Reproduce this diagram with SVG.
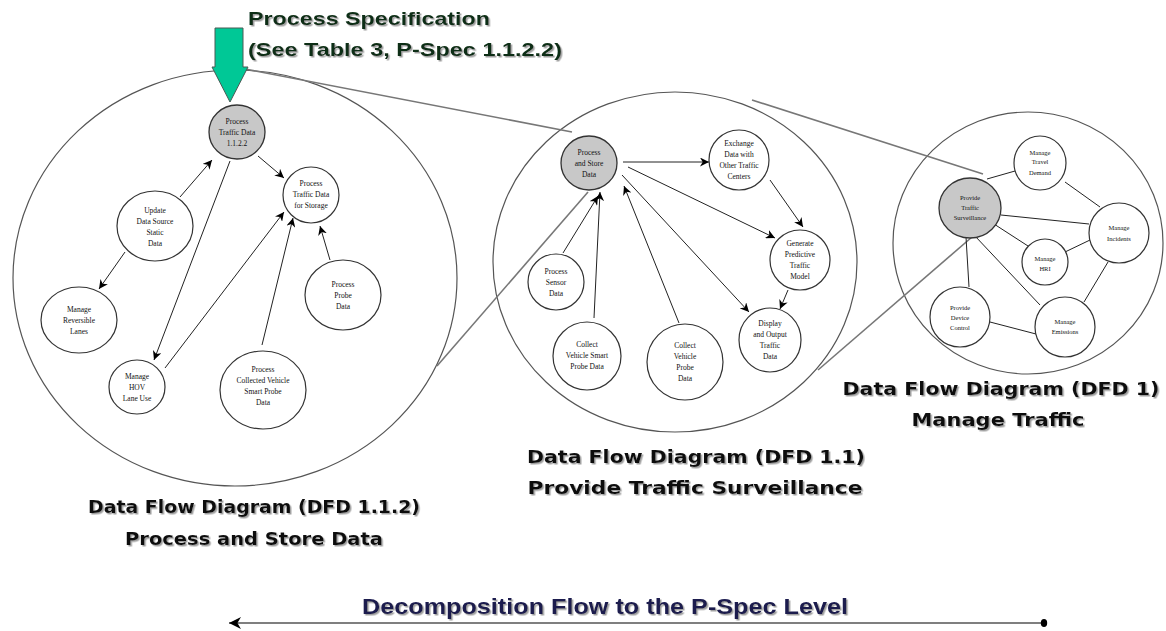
<svg xmlns="http://www.w3.org/2000/svg" width="1166" height="631" viewBox="0 0 1166 631">
<defs>
<marker id="ah" viewBox="0 0 10 10" refX="10" refY="5" markerWidth="9" markerHeight="9" markerUnits="userSpaceOnUse" orient="auto">
<path d="M0,0 L10,5 L0,10 L3,5 z" fill="#000"/>
</marker>
<marker id="ahL" viewBox="0 0 10 10" refX="10" refY="5" markerWidth="12" markerHeight="12" markerUnits="userSpaceOnUse" orient="auto">
<path d="M0,0 L10,5 L0,10 L3,5 z" fill="#000"/>
</marker>
<marker id="dot" viewBox="0 0 10 10" refX="5" refY="5" markerWidth="8" markerHeight="10" markerUnits="userSpaceOnUse" orient="auto">
<ellipse cx="5" cy="5" rx="4" ry="5" fill="#000"/>
</marker>
<filter id="sh" x="-5%" y="-20%" width="110%" height="150%">
<feDropShadow dx="1.5" dy="1.5" stdDeviation="0.6" flood-color="#888" flood-opacity="0.8"/>
</filter>
</defs>
<style>
.big{fill:none;stroke:#555;stroke-width:1.2}
.n{fill:#fff;stroke:#333;stroke-width:1.2}
.g{fill:#c8c8c8;stroke:#333;stroke-width:1.3}
.t{font-family:"Liberation Serif",serif;font-size:7.5px;fill:#111;text-anchor:middle}
.ts{font-family:"Liberation Serif",serif;font-size:6.5px;fill:#111;text-anchor:middle}
.c{stroke:#222;stroke-width:1;fill:none}
.ca{stroke:#222;stroke-width:1;fill:none;marker-end:url(#ah)}
.x{stroke:#777;stroke-width:1.6;fill:none}
.lab{font-family:"DejaVu Sans",sans-serif;font-weight:bold;font-size:17px;fill:#111;text-anchor:middle;filter:url(#sh)}
.ttl{font-family:"Liberation Sans",Arial,sans-serif;font-weight:bold;font-size:19px;fill:#0a2e14;filter:url(#sh)}
.dec{font-family:"Liberation Sans",Arial,sans-serif;font-weight:bold;font-size:22px;fill:#1a1a4e;text-anchor:middle;filter:url(#sh)}
</style>

<!-- big diagram circles -->
<g id="dfd112-boundary"><ellipse class="big" cx="235" cy="278" rx="222" ry="208"/></g>
<g id="dfd11-boundary"><ellipse class="big" cx="675" cy="262" rx="182" ry="170"/></g>
<g id="dfd1-boundary"><ellipse class="big" cx="1028" cy="243" rx="135" ry="131"/></g>

<g id="connectors">
<!-- expansion lines -->
<line class="x" x1="245" y1="69" x2="572" y2="132"/>
<line class="x" x1="437" y1="366" x2="588" y2="192"/>
<line class="x" x1="752" y1="100" x2="983" y2="174"/>
<line class="x" x1="818" y1="370" x2="972" y2="237"/>
<!-- left DFD 1.1.2 -->
<line class="ca" x1="180" y1="197" x2="212" y2="160"/>
<line class="ca" x1="230" y1="161" x2="154" y2="360"/>
<line class="ca" x1="125" y1="252" x2="99" y2="289"/>
<line class="ca" x1="258" y1="156" x2="284" y2="178"/>
<line class="ca" x1="165" y1="368" x2="284" y2="212"/>
<line class="ca" x1="262" y1="345" x2="293" y2="218"/>
<line class="ca" x1="330" y1="260" x2="320" y2="226"/>
<!-- middle DFD 1.1 -->
<line class="ca" x1="623" y1="162" x2="709" y2="162"/>
<line class="ca" x1="770" y1="180" x2="803" y2="227"/>
<line class="ca" x1="628" y1="167" x2="775" y2="238"/>
<line class="ca" x1="622" y1="175" x2="749" y2="312"/>
<line class="ca" x1="788" y1="290" x2="780" y2="309"/>
<line class="ca" x1="563" y1="253" x2="598" y2="196"/>
<line class="ca" x1="594" y1="318" x2="600" y2="192"/>
<line class="ca" x1="679" y1="323" x2="624" y2="186"/>
<!-- right DFD 1 -->
<line class="c" x1="987" y1="179" x2="1015" y2="171"/>
<line class="c" x1="1065" y1="182" x2="1100" y2="207"/>
<line class="c" x1="1001" y1="215" x2="1089" y2="224"/>
<line class="c" x1="994" y1="224" x2="1028" y2="246"/>
<line class="c" x1="1065" y1="252" x2="1090" y2="240"/>
<line class="c" x1="1108" y1="262" x2="1084" y2="302"/>
<line class="c" x1="966" y1="237" x2="969" y2="287"/>
<line class="c" x1="975" y1="236" x2="1040" y2="305"/>
<line class="c" x1="990" y1="322" x2="1036" y2="334"/>
<!-- decomposition flow arrow -->
<line x1="1044" y1="623" x2="229" y2="623" stroke="#000" stroke-width="1.2" marker-start="url(#dot)" marker-end="url(#ahL)"/>
</g>

<!-- left nodes -->
<g id="n1122">
<ellipse class="g" cx="237" cy="132" rx="28" ry="27"/>
<text class="t" x="237" y="124">Process</text>
<text class="t" x="237" y="135">Traffic Data</text>
<text class="t" x="237" y="146">1.1.2.2</text>
</g>
<g id="n-storage">
<ellipse class="n" cx="311" cy="195" rx="28" ry="28"/>
<text class="t" x="311" y="186">Process</text>
<text class="t" x="311" y="197">Traffic Data</text>
<text class="t" x="311" y="208">for Storage</text>
</g>
<g id="n-update">
<ellipse class="n" cx="155" cy="226" rx="38" ry="35"/>
<text class="t" x="155" y="213">Update</text>
<text class="t" x="155" y="224">Data Source</text>
<text class="t" x="155" y="235">Static</text>
<text class="t" x="155" y="246">Data</text>
</g>
<g id="n-reversible">
<ellipse class="n" cx="79" cy="320" rx="38" ry="33"/>
<text class="t" x="79" y="312">Manage</text>
<text class="t" x="79" y="323">Reversible</text>
<text class="t" x="79" y="334">Lanes</text>
</g>
<g id="n-hov">
<ellipse class="n" cx="137" cy="387" rx="28" ry="27"/>
<text class="t" x="137" y="379">Manage</text>
<text class="t" x="137" y="390">HOV</text>
<text class="t" x="137" y="401">Lane Use</text>
</g>
<g id="n-collected">
<ellipse class="n" cx="263" cy="390" rx="43" ry="39"/>
<text class="t" x="263" y="372">Process</text>
<text class="t" x="263" y="383">Collected Vehicle</text>
<text class="t" x="263" y="394">Smart Probe</text>
<text class="t" x="263" y="405">Data</text>
</g>
<g id="n-probe">
<ellipse class="n" cx="343" cy="295" rx="38" ry="35"/>
<text class="t" x="343" y="287">Process</text>
<text class="t" x="343" y="298">Probe</text>
<text class="t" x="343" y="309">Data</text>
</g>

<!-- middle nodes -->
<g id="n112">
<ellipse class="g" cx="589" cy="163" rx="28" ry="27"/>
<text class="t" x="589" y="155">Process</text>
<text class="t" x="589" y="166">and Store</text>
<text class="t" x="589" y="177">Data</text>
</g>
<g id="n-exchange">
<ellipse class="n" cx="739" cy="160" rx="30" ry="30"/>
<text class="t" x="739" y="146">Exchange</text>
<text class="t" x="739" y="157">Data with</text>
<text class="t" x="739" y="168">Other Traffic</text>
<text class="t" x="739" y="179">Centers</text>
</g>
<g id="n-generate">
<ellipse class="n" cx="800" cy="260" rx="30" ry="30"/>
<text class="t" x="800" y="246">Generate</text>
<text class="t" x="800" y="257">Predictive</text>
<text class="t" x="800" y="268">Traffic</text>
<text class="t" x="800" y="279">Model</text>
</g>
<g id="n-display">
<ellipse class="n" cx="770" cy="340" rx="31" ry="32"/>
<text class="t" x="770" y="326">Display</text>
<text class="t" x="770" y="337">and Output</text>
<text class="t" x="770" y="348">Traffic</text>
<text class="t" x="770" y="359">Data</text>
</g>
<g id="n-sensor">
<ellipse class="n" cx="556" cy="282" rx="28" ry="28"/>
<text class="t" x="556" y="274">Process</text>
<text class="t" x="556" y="285">Sensor</text>
<text class="t" x="556" y="296">Data</text>
</g>
<g id="n-collect-smart">
<ellipse class="n" cx="587" cy="356" rx="34" ry="34"/>
<text class="t" x="587" y="347">Collect</text>
<text class="t" x="587" y="358">Vehicle Smart</text>
<text class="t" x="587" y="369">Probe Data</text>
</g>
<g id="n-collect-probe">
<ellipse class="n" cx="685" cy="362" rx="38" ry="38"/>
<text class="t" x="685" y="348">Collect</text>
<text class="t" x="685" y="359">Vehicle</text>
<text class="t" x="685" y="370">Probe</text>
<text class="t" x="685" y="381">Data</text>
</g>

<!-- right nodes -->
<g id="n11">
<ellipse class="g" cx="970" cy="208" rx="31" ry="30"/>
<text class="ts" x="970" y="200">Provide</text>
<text class="ts" x="970" y="210">Traffic</text>
<text class="ts" x="970" y="220">Surveillance</text>
</g>
<g id="n-demand">
<ellipse class="n" cx="1040" cy="163" rx="26" ry="27"/>
<text class="ts" x="1040" y="155">Manage</text>
<text class="ts" x="1040" y="164">Travel</text>
<text class="ts" x="1040" y="175">Demand</text>
</g>
<g id="n-incidents">
<ellipse class="n" cx="1119" cy="233" rx="30" ry="30"/>
<text class="ts" x="1119" y="230">Manage</text>
<text class="ts" x="1119" y="241">Incidents</text>
</g>
<g id="n-hri">
<ellipse class="n" cx="1045" cy="262" rx="23" ry="23"/>
<text class="ts" x="1045" y="261">Manage</text>
<text class="ts" x="1045" y="271">HRI</text>
</g>
<g id="n-device">
<ellipse class="n" cx="960" cy="317" rx="30" ry="30"/>
<text class="ts" x="960" y="310">Provide</text>
<text class="ts" x="960" y="320">Device</text>
<text class="ts" x="960" y="330">Control</text>
</g>
<g id="n-emissions">
<ellipse class="n" cx="1065" cy="327" rx="30" ry="30"/>
<text class="ts" x="1065" y="324">Manage</text>
<text class="ts" x="1065" y="334">Emissions</text>
</g>

<!-- process specification pointer -->
<g id="pspec">
<polygon points="215,28 243,28 243,67 248,67 230,102 212,67 215,67" fill="#00c896" stroke="#4a5a55" stroke-width="1"/>
<text class="ttl" x="248" y="25" textLength="242" lengthAdjust="spacingAndGlyphs">Process Specification</text>
<text class="ttl" x="248" y="56" textLength="314" lengthAdjust="spacingAndGlyphs">(See Table 3, P-Spec 1.1.2.2)</text>
</g>

<!-- diagram captions -->
<g id="captions">
<text class="lab" x="254" y="513" textLength="332" lengthAdjust="spacingAndGlyphs">Data Flow Diagram (DFD 1.1.2)</text>
<text class="lab" x="254" y="545" textLength="258" lengthAdjust="spacingAndGlyphs">Process and Store Data</text>
<text class="lab" x="696" y="463" textLength="338" lengthAdjust="spacingAndGlyphs">Data Flow Diagram (DFD 1.1)</text>
<text class="lab" x="695" y="494" textLength="335" lengthAdjust="spacingAndGlyphs">Provide Traffic Surveillance</text>
<text class="lab" x="1001" y="395" textLength="317" lengthAdjust="spacingAndGlyphs">Data Flow Diagram (DFD 1)</text>
<text class="lab" x="998" y="426" textLength="173" lengthAdjust="spacingAndGlyphs">Manage Traffic</text>
<text class="dec" x="605" y="614" textLength="486" lengthAdjust="spacingAndGlyphs">Decomposition Flow to the P-Spec Level</text>
</g>
</svg>
